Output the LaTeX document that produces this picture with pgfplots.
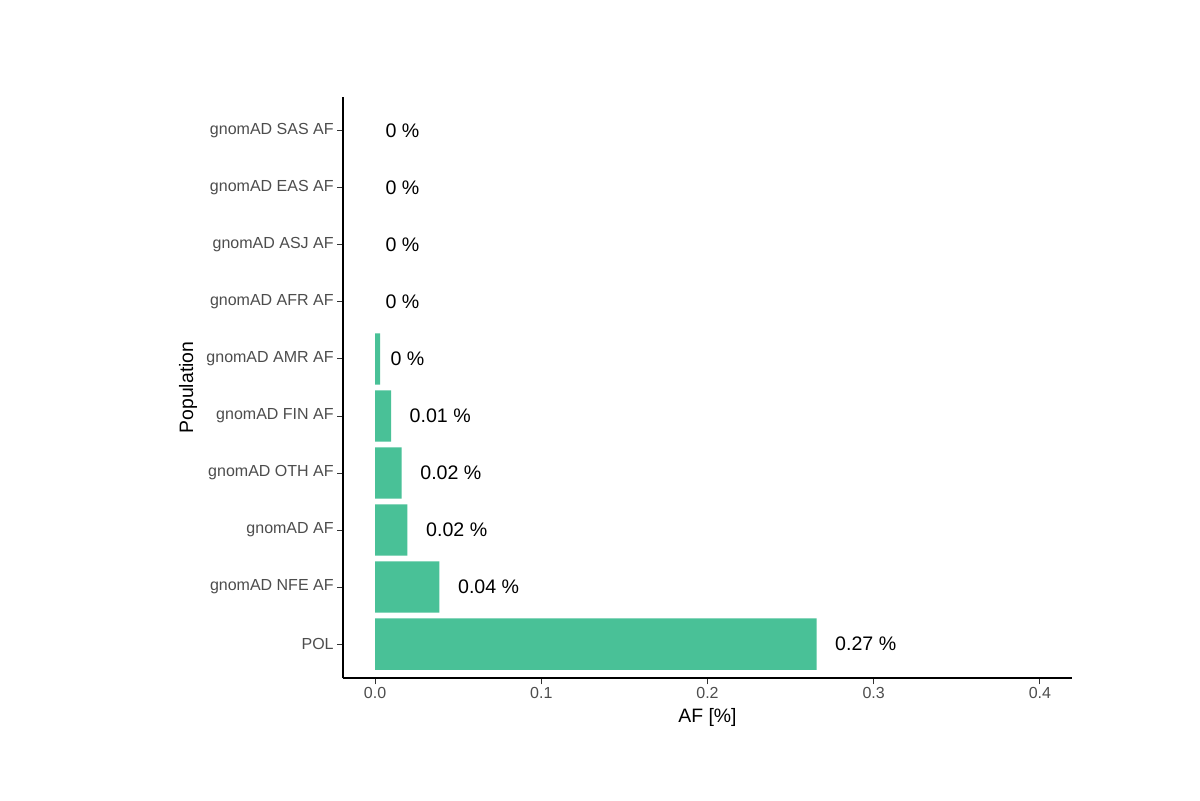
\documentclass[border=0pt]{standalone}
\usepackage{fontspec}
\setmainfont{Liberation Sans}
\usepackage{pgfplots}
\usepackage{pgfplotstable}
\pgfplotsset{compat=1.18}
\definecolor{barc}{RGB}{73,193,151}
\definecolor{tickgrey}{RGB}{77,77,77}
\definecolor{tickline}{RGB}{51,51,51}
\newcommand{\lbl}[1]{\setbox0\hbox{#1}\hspace*{0.3\wd0}\box0}
\pgfplotstableread{
y x lab
1 0.2656 0.27
2 0.0387 0.04
3 0.0195 0.02
4 0.0160 0.02
5 0.0096 0.01
6 0.0030 0
7 0 0
8 0 0
9 0 0
10 0 0
}\datatable
\begin{document}
\begin{tikzpicture}
\path[fill=white] (0,0) rectangle (600pt,400pt);
\begin{axis}[
  at={(171.5pt,60.85pt)}, anchor=south west,
  scale only axis, width=364.5pt, height=290.8pt,
  xmin=-0.0193, xmax=0.4193,
  ymin=0.4, ymax=10.6,
  axis x line*=bottom, axis y line*=left,
  axis line style={-, line width=0.9pt, black},
  tick align=outside, major tick length=3pt,
  tick style={line width=0.5pt, tickline},
  xtick={0,0.1,0.2,0.3,0.4},
  xticklabels={0.0,0.1,0.2,0.3,0.4},
  ytick={1,...,10},
  yticklabels={POL, gnomAD NFE AF, gnomAD AF, gnomAD OTH AF, gnomAD FIN AF, gnomAD AMR AF, gnomAD AFR AF, gnomAD ASJ AF, gnomAD EAS AF, gnomAD SAS AF},
  ticklabel style={font=\fontsize{8}{9.6}\selectfont, text=tickgrey},
  yticklabel style={inner sep=1.5pt},
  xticklabel style={inner sep=1.5pt},
  xlabel={AF [\%]},
  ylabel={Population},
  xlabel style={font=\fontsize{9.7}{11}\selectfont, at={(axis description cs:0.5,-0.0672)}, anchor=center},
  ylabel style={font=\fontsize{9.7}{11}\selectfont, at={(axis description cs:-0.2126,0.5)}, anchor=center, rotate=0},
  clip=false,
]
\addplot[xbar, bar width=0.9, fill=barc, draw=none,
  x filter/.expression={x==0 ? nan : x}] table[x=x, y=y] {\datatable};
\addplot[draw=none, mark=none,
  nodes near coords={\lbl{\pgfplotspointmeta{} \%}},
  point meta=explicit symbolic,
  nodes near coords style={anchor=west, inner sep=0pt, font=\fontsize{9.8}{11.5}\selectfont, text=black}]
  table[x=x, y=y, meta=lab] {\datatable};
\end{axis}
\end{tikzpicture}
\end{document}
